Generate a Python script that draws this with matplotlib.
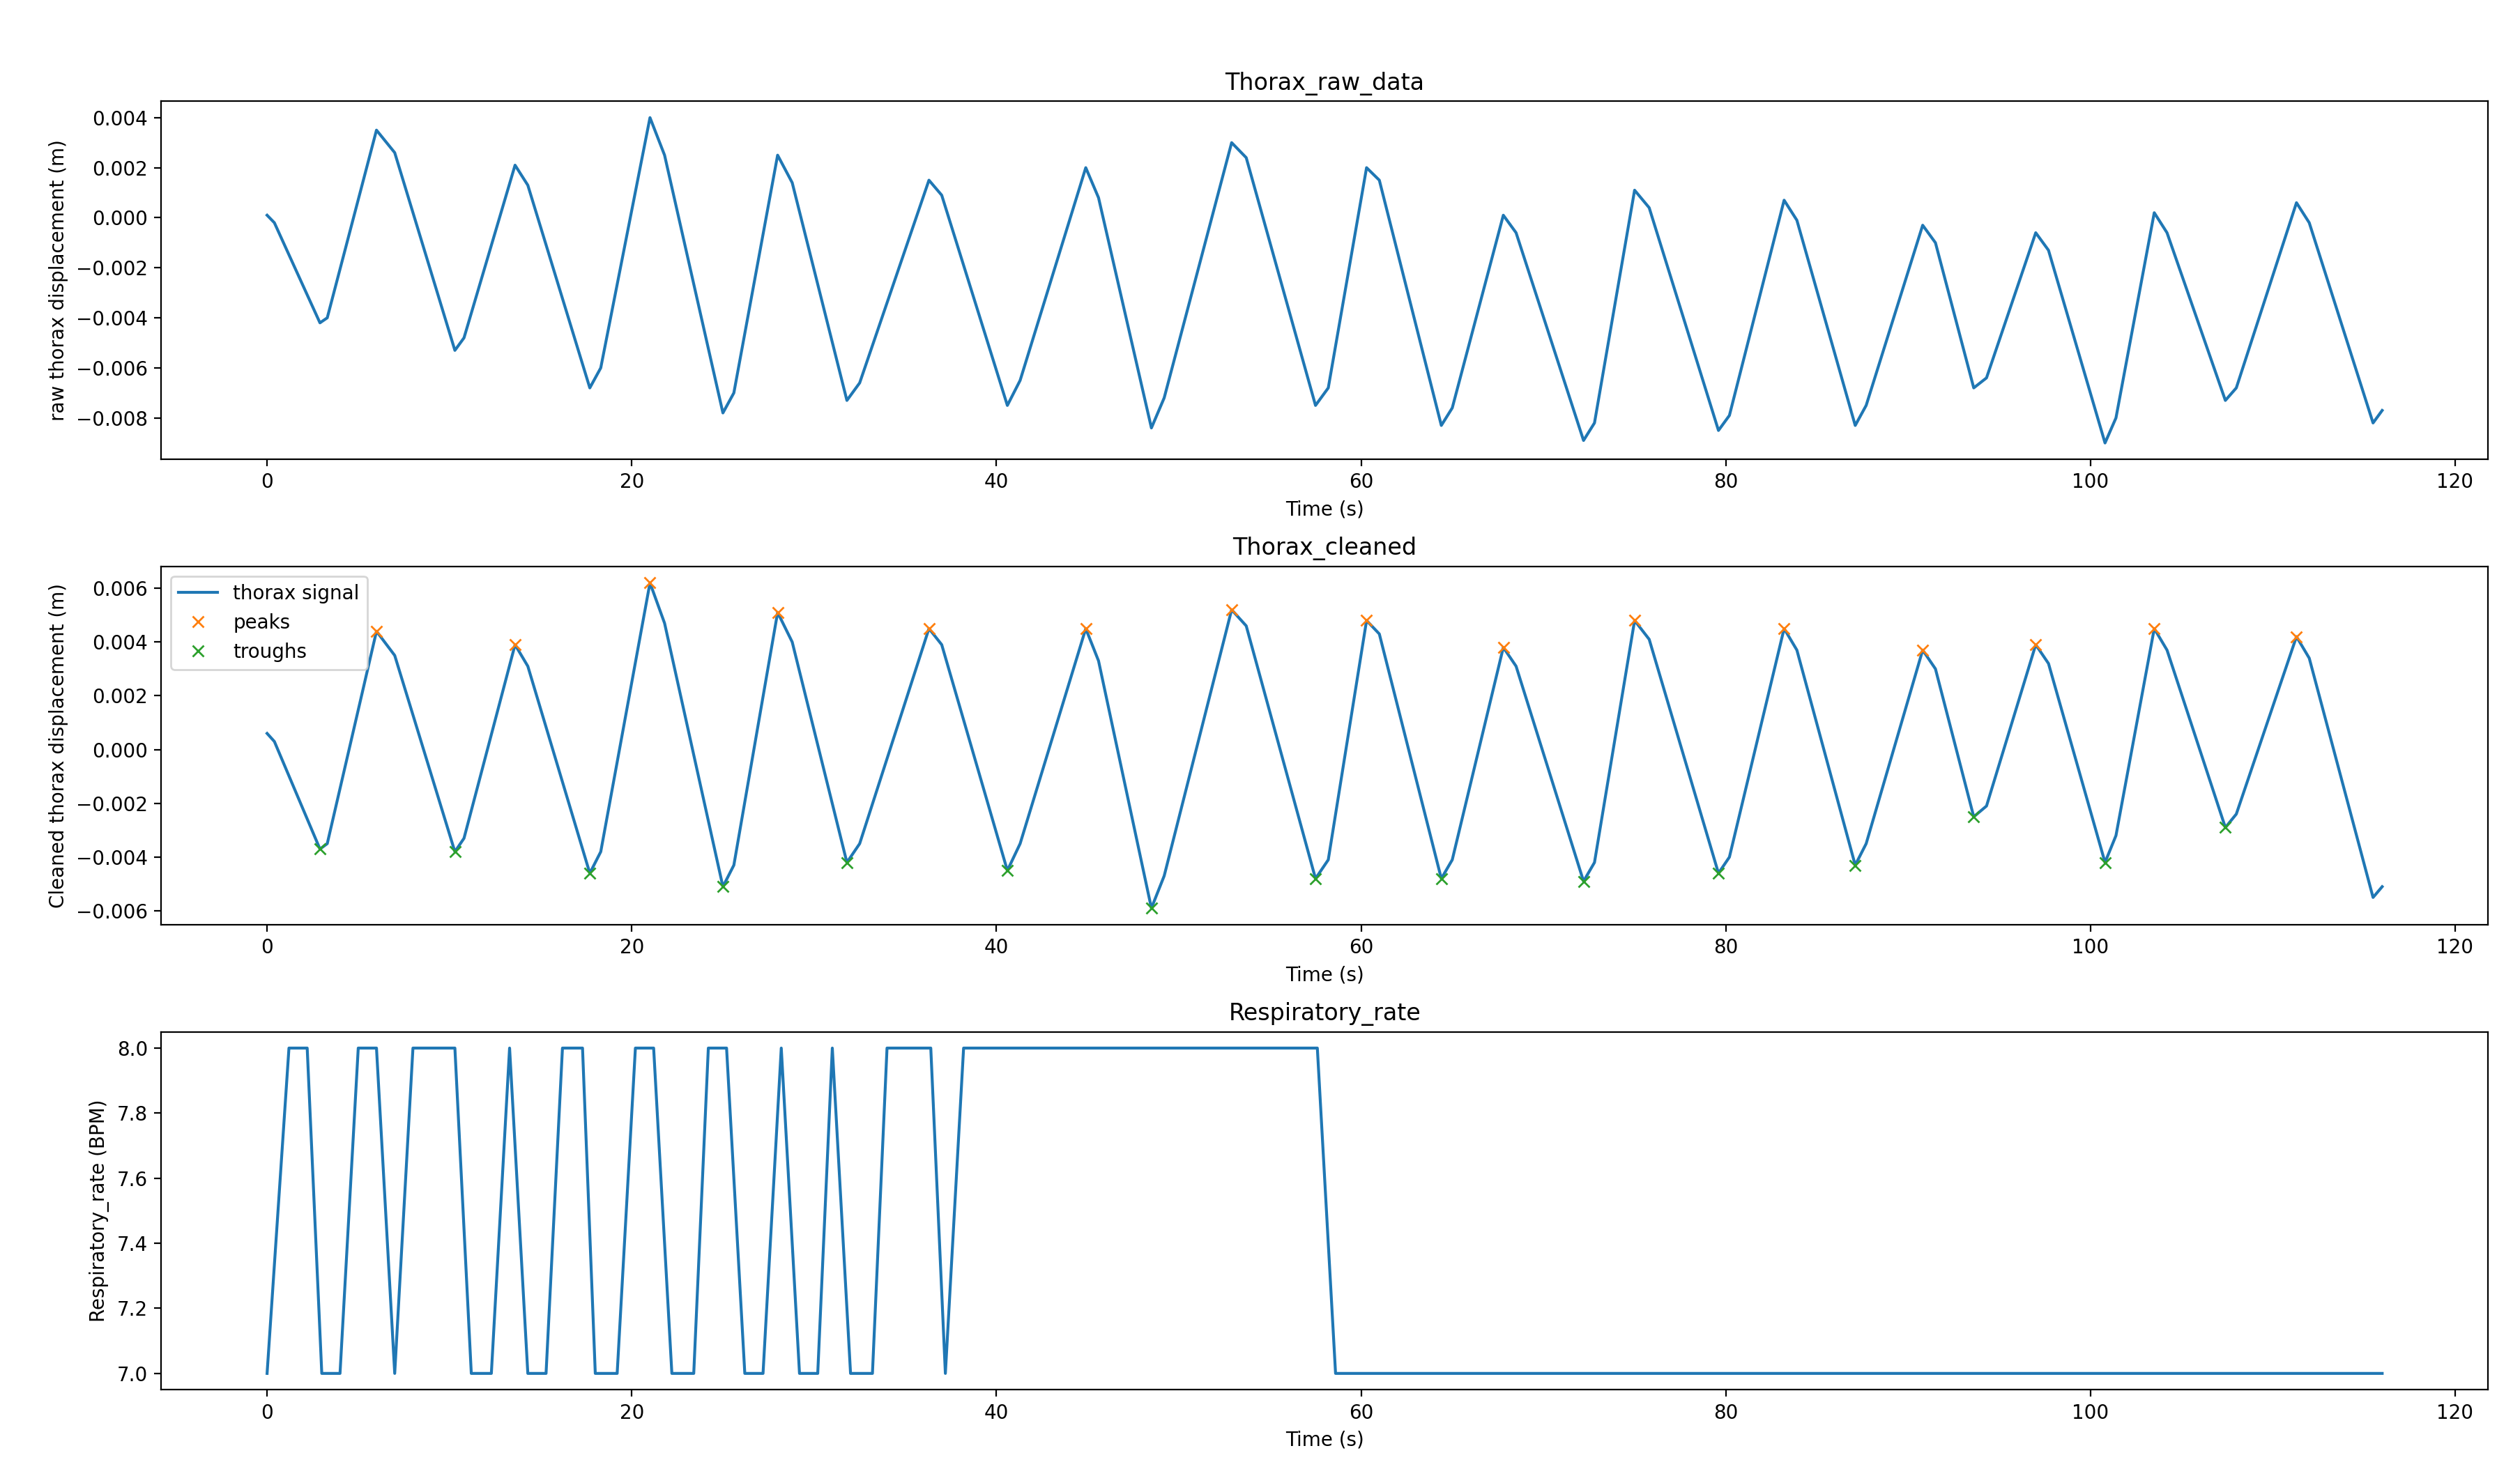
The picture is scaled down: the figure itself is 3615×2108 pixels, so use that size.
import numpy as np
import matplotlib.pyplot as plt

# raw thorax signal keypoints (time s, displacement m)
raw_t = [0, 0.4, 2.9, 3.3, 6.0, 7.0, 10.3, 10.8, 13.6, 14.3, 17.7, 18.3, 21.0, 21.8,
         25.0, 25.6, 28.0, 28.8, 31.8, 32.5, 36.3, 37.0, 40.6, 41.3, 44.9, 45.6,
         48.5, 49.2, 52.9, 53.7, 57.5, 58.2, 60.3, 61.0, 64.4, 65.0, 67.8, 68.5,
         72.2, 72.8, 75.0, 75.8, 79.6, 80.2, 83.2, 83.9, 87.1, 87.7, 90.8, 91.5,
         93.6, 94.3, 97.0, 97.7, 100.8, 101.4, 103.5, 104.2, 107.4, 108.0, 111.3,
         112.0, 115.5, 116.0]
raw_v = [0.0001, -0.0002, -0.0042, -0.0040, 0.0035, 0.0026, -0.0053, -0.0048, 0.0021, 0.0013,
         -0.0068, -0.0060, 0.0040, 0.0025, -0.0078, -0.0070, 0.0025, 0.0014, -0.0073, -0.0066,
         0.0015, 0.0009, -0.0075, -0.0065, 0.0020, 0.0008, -0.0084, -0.0072, 0.0030, 0.0024,
         -0.0075, -0.0068, 0.0020, 0.0015, -0.0083, -0.0076, 0.0001, -0.0006, -0.0089, -0.0082,
         0.0011, 0.0004, -0.0085, -0.0079, 0.0007, -0.0001, -0.0083, -0.0075, -0.0003, -0.0010,
         -0.0068, -0.0064, -0.0006, -0.0013, -0.0090, -0.0080, 0.0002, -0.0006, -0.0073, -0.0068,
         0.0006, -0.0002, -0.0082, -0.0077]

# cleaned signal keypoints
cl_t = [0, 0.4, 2.9, 3.3, 6.0, 7.0, 10.3, 10.8, 13.6, 14.3, 17.7, 18.3, 21.0, 21.8,
        25.0, 25.6, 28.0, 28.8, 31.8, 32.5, 36.3, 37.0, 40.6, 41.3, 44.9, 45.6,
        48.5, 49.2, 52.9, 53.7, 57.5, 58.2, 60.3, 61.0, 64.4, 65.0, 67.8, 68.5,
        72.2, 72.8, 75.0, 75.8, 79.6, 80.2, 83.2, 83.9, 87.1, 87.7, 90.8, 91.5,
        93.6, 94.3, 97.0, 97.7, 100.8, 101.4, 103.5, 104.2, 107.4, 108.0, 111.3,
        112.0, 115.5, 116.0]
cl_v = [0.0006, 0.0003, -0.0037, -0.0035, 0.0044, 0.0035, -0.0038, -0.0033, 0.0039, 0.0031,
        -0.0046, -0.0038, 0.0062, 0.0047, -0.0051, -0.0043, 0.0051, 0.0040, -0.0042, -0.0035,
        0.0045, 0.0039, -0.0045, -0.0035, 0.0045, 0.0033, -0.0059, -0.0047, 0.0052, 0.0046,
        -0.0048, -0.0041, 0.0048, 0.0043, -0.0048, -0.0041, 0.0038, 0.0031, -0.0049, -0.0042,
        0.0048, 0.0041, -0.0046, -0.0040, 0.0045, 0.0037, -0.0043, -0.0035, 0.0037, 0.0030,
        -0.0025, -0.0021, 0.0039, 0.0032, -0.0042, -0.0032, 0.0045, 0.0037, -0.0029, -0.0024,
        0.0042, 0.0034, -0.0055, -0.0051]

peak_t = [6.0, 13.6, 21.0, 28.0, 36.3, 44.9, 52.9, 60.3, 67.8, 75.0, 83.2, 90.8, 97.0, 103.5, 111.3]
peak_v = [0.0044, 0.0039, 0.0062, 0.0051, 0.0045, 0.0045, 0.0052, 0.0048, 0.0038, 0.0048,
          0.0045, 0.0037, 0.0039, 0.0045, 0.0042]
trough_t = [2.9, 10.3, 17.7, 25.0, 31.8, 40.6, 48.5, 57.5, 64.4, 72.2, 79.6, 87.1, 93.6, 100.8, 107.4]
trough_v = [-0.0037, -0.0038, -0.0046, -0.0051, -0.0042, -0.0045, -0.0059, -0.0048, -0.0048,
            -0.0049, -0.0046, -0.0043, -0.0025, -0.0042, -0.0029]

# respiratory rate
rr_t = [0, 1.2, 2.2, 3.0, 4.0, 5.0, 6.0, 7.0, 8.0, 10.3, 11.2, 12.3, 13.3, 14.3, 15.3, 16.2,
        17.3, 18.0, 19.2, 20.2, 21.2, 22.2, 23.4, 24.2, 25.2, 26.2, 27.2, 28.2, 29.2, 30.2,
        31.0, 32.0, 33.2, 34.0, 36.4, 37.2, 38.2, 57.6, 58.6, 116.0]
rr_v = [7, 8, 8, 7, 7, 8, 8, 7, 8, 8, 7, 7, 8, 7, 7, 8,
        8, 7, 7, 8, 8, 7, 7, 8, 8, 7, 7, 8, 7, 7,
        8, 7, 7, 8, 8, 7, 8, 8, 7, 7]

fig, axs = plt.subplots(3, 1, figsize=(18.08, 10.54), dpi=200)
plt.subplots_adjust(left=0.064, right=0.987, top=0.931, bottom=0.054, hspace=0.3)

axs[0].plot(raw_t, raw_v)
axs[0].set_title("Thorax_raw_data")
axs[0].set_xlabel("Time (s)")
axs[0].set_ylabel("raw thorax displacement (m)")

axs[1].plot(cl_t, cl_v, label="thorax signal")
axs[1].plot(peak_t, peak_v, "x", label="peaks")
axs[1].plot(trough_t, trough_v, "x", label="troughs")
axs[1].set_title("Thorax_cleaned")
axs[1].set_xlabel("Time (s)")
axs[1].set_ylabel("Cleaned thorax displacement (m)")
axs[1].legend(loc="upper left")

axs[2].plot(rr_t, rr_v)
axs[2].set_title("Respiratory_rate")
axs[2].set_xlabel("Time (s)")
axs[2].set_ylabel("Respiratory_rate (BPM)")

plt.savefig("out.png")
